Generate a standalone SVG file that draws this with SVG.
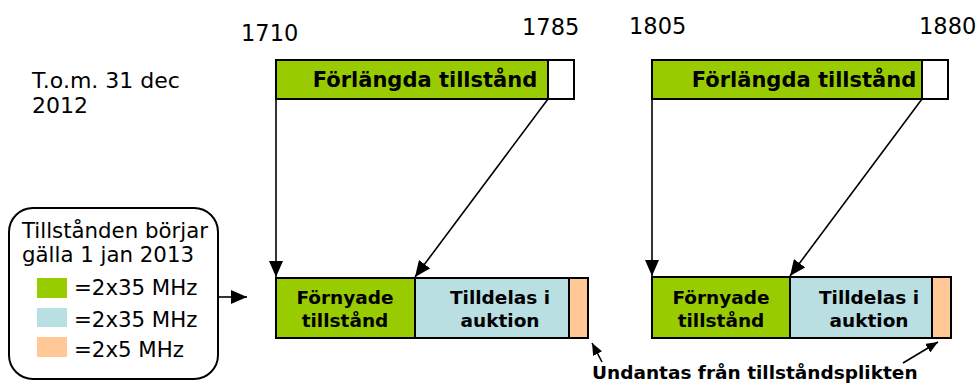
<svg xmlns="http://www.w3.org/2000/svg" width="980" height="383" viewBox="0 0 980 383">
<defs>
<style>
.t{font-family:"DejaVu Sans",Verdana,sans-serif;fill:#000}
.n{font-size:22.5px}
.l{font-size:22px}
.lg{font-size:21.3px}
.b{font-weight:bold;font-size:18.5px;text-anchor:middle}
.bt{font-weight:bold;font-size:21px;text-anchor:middle}
.g{fill:#99cc00;stroke:#000;stroke-width:2}
.w{fill:#fff;stroke:#000;stroke-width:2}
.c{fill:#b9dfe3;stroke:#000;stroke-width:2}
.o{fill:#ffc896;stroke:#000;stroke-width:2}
.ln{stroke:#000;stroke-width:1.6;fill:none}
</style>
<marker id="ah" viewBox="0 0 16 14" refX="16" refY="7" markerWidth="16" markerHeight="14" markerUnits="userSpaceOnUse" orient="auto">
<path d="M0,0 L16,7 L0,14 Z" fill="#000"/>
</marker>
<marker id="as" viewBox="0 0 12 10" refX="12" refY="5" markerWidth="12" markerHeight="10" markerUnits="userSpaceOnUse" orient="auto">
<path d="M0,0 L12,5 L0,10 Z" fill="#000"/>
</marker>
</defs>
<rect width="980" height="383" fill="#fff"/>

<g id="labels">
<text class="t n" x="241" y="41">1710</text>
<text class="t n" x="522" y="35">1785</text>
<text class="t n" x="629" y="34">1805</text>
<text class="t n" x="919" y="34">1880</text>
<text class="t l" x="32" y="88">T.o.m. 31 dec</text>
<text class="t l" x="32" y="113">2012</text>
</g>

<g id="legend">
<rect x="9" y="208" width="209" height="171" rx="24" ry="24" fill="#fff" stroke="#000" stroke-width="2"/>
<text class="t lg" x="22" y="238">Tillstånden börjar</text>
<text class="t lg" x="22" y="262">gälla 1 jan 2013</text>
<rect x="37" y="278" width="30" height="20" fill="#99cc00"/>
<rect x="37" y="308" width="30" height="19" fill="#b9dfe3"/>
<rect x="37" y="337" width="30" height="20" fill="#ffc896"/>
<text class="t lg" x="74" y="295">=2x35 MHz</text>
<text class="t lg" x="74" y="327">=2x35 MHz</text>
<text class="t lg" x="74" y="357">=2x5 MHz</text>
</g>

<g id="top-left">
<rect class="g" x="276" y="60" width="272" height="39"/>
<rect class="w" x="548" y="60" width="26" height="39"/>
<text class="t bt" x="425" y="87">Förlängda tillstånd</text>
</g>
<g id="top-right">
<rect class="g" x="652" y="60" width="270" height="39"/>
<rect class="w" x="922" y="60" width="26" height="39"/>
<text class="t bt" x="804" y="87">Förlängda tillstånd</text>
</g>

<g id="bottom-left">
<rect class="g" x="276" y="278" width="139" height="60"/>
<rect class="c" x="415" y="278" width="154" height="60"/>
<rect class="o" x="569" y="278" width="19" height="60"/>
<text class="t b" x="345" y="304">Förnyade</text>
<text class="t b" x="345" y="327">tillstånd</text>
<text class="t b" x="500" y="304">Tilldelas i</text>
<text class="t b" x="500" y="327">auktion</text>
</g>
<g id="bottom-right">
<rect class="g" x="652" y="277" width="138" height="61"/>
<rect class="c" x="790" y="277" width="142" height="61"/>
<rect class="o" x="932" y="277" width="19" height="61"/>
<text class="t b" x="721" y="304">Förnyade</text>
<text class="t b" x="721" y="327">tillstånd</text>
<text class="t b" x="869" y="304">Tilldelas i</text>
<text class="t b" x="869" y="327">auktion</text>
</g>

<g id="note">
<text class="t" x="592" y="379" font-weight="bold" font-size="18.5px">Undantas från tillståndsplikten</text>
</g>

<g id="connectors">
<line class="ln" x1="276" y1="99" x2="276" y2="277" marker-end="url(#ah)"/>
<line class="ln" x1="548" y1="99" x2="415" y2="277" marker-end="url(#ah)"/>
<line class="ln" x1="652" y1="99" x2="652" y2="276" marker-end="url(#ah)"/>
<line class="ln" x1="922" y1="99" x2="790" y2="276" marker-end="url(#ah)"/>
<line class="ln" x1="218" y1="297" x2="247" y2="297" marker-end="url(#ah)"/>
<line class="ln" x1="602" y1="362" x2="592" y2="343" marker-end="url(#as)"/>
<line class="ln" x1="903" y1="363" x2="938" y2="342" marker-end="url(#as)"/>
</g>
</svg>
